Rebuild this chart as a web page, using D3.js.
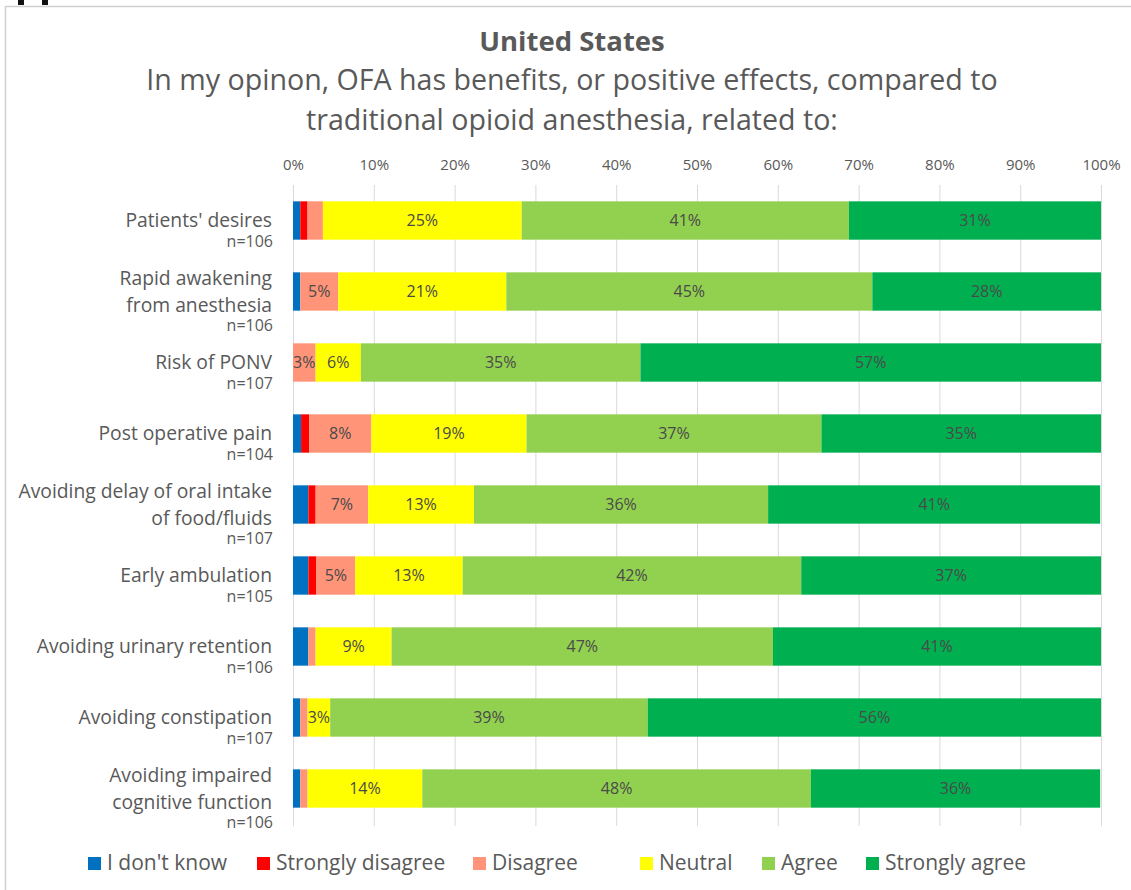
<!DOCTYPE html>
<html>
<head>
<meta charset="utf-8">
<script src="https://cdn.jsdelivr.net/npm/d3@7"></script>
<style>
  body { margin: 0; background: #fff; }
  text { font-family: "Open Sans", Lato, sans-serif; fill: #595959; }
</style>
</head>
<body>
<div id="chart"></div>
<script>
// Categories (each entry is the wrapped label lines) and sample sizes
var categories = [
  ["Patients' desires"],
  ["Rapid awakening", "from anesthesia"],
  ["Risk of PONV"],
  ["Post operative pain"],
  ["Avoiding delay of oral intake", "of food/fluids"],
  ["Early ambulation"],
  ["Avoiding urinary retention"],
  ["Avoiding constipation"],
  ["Avoiding impaired", "cognitive function"]
];
var sampleSizes = [106, 106, 107, 104, 107, 105, 106, 107, 106];

// Series names and colours
var seriesNames = ["I don't know", "Strongly disagree", "Disagree", "Neutral", "Agree", "Strongly agree"];
var seriesColors = ["#0070C0", "#FF0000", "#FF9478", "#FFFF00", "#92D050", "#00B050"];

// Percent of respondents per series, in category order
var dontKnow         = [0.9, 0.9, 0.0, 1.0, 1.9, 1.9, 1.9, 0.9, 0.9];
var stronglyDisagree = [0.9, 0.0, 0.0, 1.0, 0.9, 1.0, 0.0, 0.0, 0.0];
var disagree         = [1.9, 4.7, 2.8, 7.7, 6.5, 4.8, 0.9, 0.9, 0.9];
var neutral          = [24.6, 20.8, 5.6, 19.2, 13.1, 13.3, 9.4, 2.8, 14.2];
var agree            = [40.5, 45.3, 34.6, 36.5, 36.4, 41.9, 47.2, 39.3, 48.1];
var stronglyAgree    = [31.2, 28.3, 57.0, 34.6, 41.1, 37.1, 40.6, 56.1, 35.8];

var tickValues = [0, 10, 20, 30, 40, 50, 60, 70, 80, 90, 100];

var seriesValues = [dontKnow, stronglyDisagree, disagree, neutral, agree, stronglyAgree];

var width = 1131, height = 890;

var svg = d3.select('#chart')
    .append('svg')
    .attr('width', width)
    .attr('height', height);

// Frame of the chart area
svg.append('line')
    .attr('x1', 5.5).attr('x2', 5.5).attr('y1', 6).attr('y2', height)
    .attr('stroke', '#d0d0d0').attr('stroke-width', 1.5);
svg.append('line')
    .attr('x1', 5).attr('x2', width).attr('y1', 6.5).attr('y2', 6.5)
    .attr('stroke', '#d0d0d0').attr('stroke-width', 1.5);
// bits of the figure above that were cropped into the picture
svg.append('rect').attr('x', 18).attr('y', 0).attr('width', 6).attr('height', 5).attr('fill', '#111');
svg.append('rect').attr('x', 42).attr('y', 0).attr('width', 6).attr('height', 5).attr('fill', '#111');

// Titles
svg.append('text')
    .attr('x', 572).attr('y', 51)
    .style('text-anchor', 'middle')
    .style('font-size', '27.5px')
    .style('font-weight', 'bold')
    .text('United States');
svg.append('text')
    .attr('x', 572).attr('y', 90)
    .style('text-anchor', 'middle')
    .style('font-size', '28.6px')
    .text('In my opinon, OFA has benefits, or positive effects, compared to');
svg.append('text')
    .attr('x', 572).attr('y', 130)
    .style('text-anchor', 'middle')
    .style('font-size', '28.6px')
    .text('traditional opioid anesthesia, related to:');

// Scales
var x = d3.scaleLinear().domain([0, 100]).range([293, 1101]);
var y = d3.scaleBand()
    .domain(d3.range(categories.length))
    .range([185, 824])
    .paddingInner(0.46)
    .paddingOuter(0.23);

// Gridlines
svg.append('g')
    .selectAll('line')
    .data(tickValues)
    .enter().append('line')
    .attr('x1', function(d) { return x(d) + 0.5; })
    .attr('x2', function(d) { return x(d) + 0.5; })
    .attr('y1', 185)
    .attr('y2', 826)
    .attr('stroke', '#d9d9d9')
    .attr('stroke-width', 1);

// Top axis
var axis = svg.append('g')
    .attr('transform', 'translate(0,185)')
    .call(d3.axisTop(x)
        .tickValues(tickValues)
        .tickFormat(function(d) { return d + '%'; })
        .tickSize(0)
        .tickPadding(15));
axis.select('.domain').remove();
axis.selectAll('text')
    .style('font-family', '"Open Sans", sans-serif')
    .style('font-size', '15px')
    .attr('fill', '#595959');

// Stack the series
var table = categories.map(function(c, i) {
  var row = { index: i };
  seriesNames.forEach(function(s, j) { row[s] = seriesValues[j][i]; });
  return row;
});
var stacked = d3.stack().keys(seriesNames)(table);

var layers = svg.append('g')
    .selectAll('g')
    .data(stacked)
    .enter().append('g')
    .attr('fill', function(d, i) { return seriesColors[i]; });

layers.selectAll('rect')
    .data(function(d) { return d; })
    .enter().append('rect')
    .attr('x', function(d) { return x(d[0]); })
    .attr('width', function(d) { return x(d[1]) - x(d[0]); })
    .attr('y', function(d) { return y(d.data.index); })
    .attr('height', y.bandwidth());

// Value labels
layers.selectAll('text')
    .data(function(d) { return d.filter(function(p) { return p[1] - p[0] >= 2.5; }); })
    .enter().append('text')
    .attr('x', function(d) { return (x(d[0]) + x(d[1])) / 2; })
    .attr('y', function(d) { return y(d.data.index) + y.bandwidth() / 2; })
    .attr('dy', '0.35em')
    .style('text-anchor', 'middle')
    .style('font-size', '16px')
    .style('fill', '#4a4a4a')
    .text(function(d) { return Math.round(d[1] - d[0]) + '%'; });

// Category labels
var catLabels = svg.append('g')
    .selectAll('g')
    .data(categories)
    .enter().append('g')
    .attr('transform', function(d, i) {
      return 'translate(272,' + (y(i) + y.bandwidth() / 2) + ')';
    });

catLabels.each(function(lines, i) {
  var g = d3.select(this);
  var lineH = 27;
  var first = -(lines.length - 1) * lineH / 2;
  lines.forEach(function(t, k) {
    g.append('text')
        .attr('y', first + k * lineH)
        .attr('dy', '0.35em')
        .style('text-anchor', 'end')
        .style('font-size', '19.3px')
        .text(t);
  });
  g.append('text')
      .attr('x', 1)
      .attr('y', first + (lines.length - 1) * lineH + 20.5)
      .attr('dy', '0.35em')
      .style('text-anchor', 'end')
      .style('font-size', '16px')
      .text('n=' + sampleSizes[i]);
});

// Legend
var legendX = [88, 257, 473, 640, 762, 866];
var legend = svg.append('g')
    .selectAll('g')
    .data(seriesNames)
    .enter().append('g')
    .attr('transform', function(d, i) { return 'translate(' + legendX[i] + ',863)'; });
legend.append('rect')
    .attr('x', 0).attr('y', -6)
    .attr('width', 13).attr('height', 13)
    .attr('fill', function(d, i) { return seriesColors[i]; });
legend.append('text')
    .attr('x', 19)
    .attr('dy', '0.35em')
    .style('font-size', '21px')
    .text(function(d) { return d; });
</script>
</body>
</html>
